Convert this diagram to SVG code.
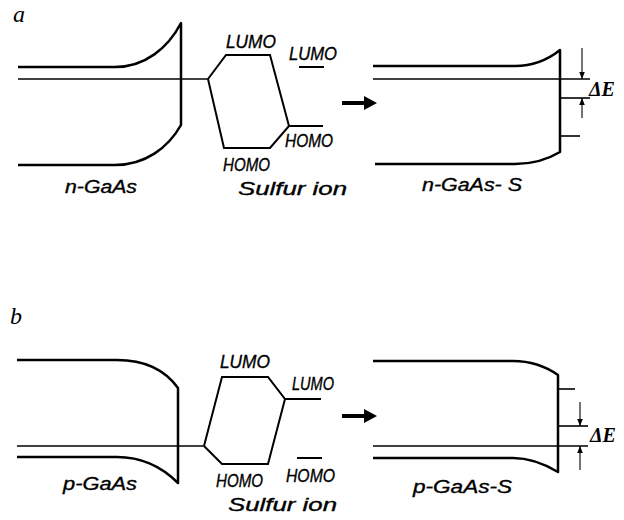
<svg xmlns="http://www.w3.org/2000/svg" width="624" height="520" viewBox="0 0 624 520">
<defs>
<marker id="ah" viewBox="0 0 10 10" refX="10" refY="5" markerWidth="7" markerHeight="9" orient="auto" markerUnits="userSpaceOnUse">
<path d="M0,1 L10,5 L0,9 Z" fill="#000"/>
</marker>
</defs>
<style>
.band{fill:none;stroke:#000;stroke-width:2.5;stroke-linejoin:round}
.fermi{fill:none;stroke:#000;stroke-width:1.6}
.mo{fill:none;stroke:#000;stroke-width:2}
.dim{fill:none;stroke:#000;stroke-width:1.1}
.lbl{font-family:"Liberation Sans Narrow","Liberation Sans",Arial,sans-serif;font-style:italic;font-size:18px;fill:#000;stroke:#000;stroke-width:0.35}
.mol{font-family:"Liberation Sans Narrow","Liberation Sans",Arial,sans-serif;font-style:italic;font-size:18px;fill:#000;stroke:#000;stroke-width:0.35}
.pl{font-family:"Liberation Serif","Times New Roman",serif;font-style:italic;font-size:24px;fill:#000}
.de{font-family:"Liberation Serif","Times New Roman",serif;font-style:italic;font-weight:bold;font-size:21px;fill:#000}
</style>
<rect width="624" height="520" fill="#fff"/>

<g id="panel-a">
<text class="pl" x="13" y="22">a</text>
<g id="a-nGaAs">
<path class="band" d="M18,67 L115,67 C145,67 168,48 181,23 L181,125 C168,148 145,165 115,165 L18,165"/>
<path class="fermi" d="M18,79 L208,79"/>
<text class="lbl" x="65" y="193" textLength="72" lengthAdjust="spacingAndGlyphs">n-GaAs</text>
</g>
<g id="a-sulfur">
<path class="mo" d="M208,79 L226,55 L270,55 L289,126 L323,126"/>
<path class="mo" d="M208,79 L224,148 L270,148 L289,126"/>
<path class="mo" d="M299,67 L324,67"/>
<text class="mol" x="226" y="48" textLength="50" lengthAdjust="spacingAndGlyphs">LUMO</text>
<text class="mol" x="289" y="60" textLength="48" lengthAdjust="spacingAndGlyphs">LUMO</text>
<text class="mol" x="285" y="147" textLength="48" lengthAdjust="spacingAndGlyphs">HOMO</text>
<text class="mol" x="223" y="171" textLength="47" lengthAdjust="spacingAndGlyphs">HOMO</text>
<text class="lbl" x="238" y="195" textLength="109" lengthAdjust="spacingAndGlyphs">Sulfur ion</text>
</g>
<g id="a-arrow">
<path d="M342,101 L364,101 L364,96 L377,103 L364,110 L364,105 L342,105 Z" fill="#000"/>
</g>
<g id="a-nGaAsS">
<path class="band" d="M373,66 L515,66 C535,66 550,58 560,50 L560,152 C550,158 535,164 515,164 L375,164"/>
<path class="fermi" d="M373,79 L590,79"/>
<path class="fermi" d="M560,98 L590,98"/>
<path class="fermi" d="M561,136 L580,136"/>
<text class="lbl" x="422" y="191" textLength="100" lengthAdjust="spacingAndGlyphs">n-GaAs- S</text>
</g>
<g id="a-deltaE">
<path class="dim" d="M582,48 L582,79" marker-end="url(#ah)"/>
<path class="dim" d="M582,118 L582,98" marker-end="url(#ah)"/>
<text class="de" x="589" y="96" textLength="26" lengthAdjust="spacingAndGlyphs">ΔE</text>
</g>
</g>

<g id="panel-b">
<text class="pl" x="10" y="324">b</text>
<g id="b-pGaAs">
<path class="band" d="M17,360 L117,360 C145,360 165,370 178,388 L178,483 C165,470 145,457 117,457 L17,457"/>
<path class="fermi" d="M17,446 L204,446"/>
<text class="lbl" x="63" y="490" textLength="74" lengthAdjust="spacingAndGlyphs">p-GaAs</text>
</g>
<g id="b-sulfur">
<path class="mo" d="M204,446 L222,377 L268,377 L285,399 L321,399"/>
<path class="mo" d="M204,446 L222,464 L268,464 L285,399"/>
<path class="mo" d="M297,458 L322,458"/>
<text class="mol" x="220" y="368" textLength="50" lengthAdjust="spacingAndGlyphs">LUMO</text>
<text class="mol" x="292" y="390" textLength="42" lengthAdjust="spacingAndGlyphs">LUMO</text>
<text class="mol" x="216" y="487" textLength="47" lengthAdjust="spacingAndGlyphs">HOMO</text>
<text class="mol" x="286" y="482" textLength="49" lengthAdjust="spacingAndGlyphs">HOMO</text>
<text class="lbl" x="228" y="511" textLength="109" lengthAdjust="spacingAndGlyphs">Sulfur ion</text>
</g>
<g id="b-arrow">
<path d="M342,414 L364,414 L364,409 L377,416 L364,423 L364,418 L342,418 Z" fill="#000"/>
</g>
<g id="b-pGaAsS">
<path class="band" d="M373,361 L513,361 C533,361 548,368 558,375 L558,472 C548,466 533,458 513,458 L373,458"/>
<path class="fermi" d="M373,446 L588,446"/>
<path class="fermi" d="M558,426 L588,426"/>
<path class="fermi" d="M558,389 L575,389"/>
<text class="lbl" x="413" y="493" textLength="99" lengthAdjust="spacingAndGlyphs">p-GaAs-S</text>
</g>
<g id="b-deltaE">
<path class="dim" d="M580,402 L580,426" marker-end="url(#ah)"/>
<path class="dim" d="M580,470 L580,446" marker-end="url(#ah)"/>
<text class="de" x="590" y="442" textLength="26" lengthAdjust="spacingAndGlyphs">ΔE</text>
</g>
</g>
</svg>
